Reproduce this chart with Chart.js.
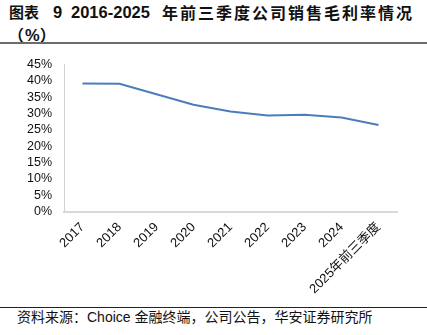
<!DOCTYPE html>
<html>
<head>
<meta charset="utf-8">
<script src="https://cdn.jsdelivr.net/npm/chart.js@4"></script>
<style>
  html, body { margin: 0; padding: 0; background: #fff; }
  body { width: 427px; height: 335px; position: relative; overflow: hidden; }
  .t { position: absolute; font-weight: bold; color: #111; white-space: nowrap; line-height: 22px; }
  .cjk { font-family: "Noto Sans CJK SC", sans-serif; font-size: 16px; letter-spacing: 2px; }
  .lat { font-family: "Liberation Sans", Arial, sans-serif; font-size: 16.5px; }
  #rule1 { position: absolute; left: 0; top: 42px; width: 427px; height: 2px; background: #6b6b6b; }
  #rule2 { position: absolute; left: 0; top: 307px; width: 427px; height: 1px; background: #222; }
  #source { position: absolute; left: 17px; top: 308px; font-size: 14px; line-height: 18px; color: #111; white-space: nowrap;
            font-family: "Liberation Sans", "Noto Sans CJK SC", sans-serif; }
  #wrap { position: absolute; left: 0; top: 45px; width: 427px; height: 250px; }
</style>
</head>
<body>
<div class="t cjk" style="left:9px;top:1px;font-size:15px;letter-spacing:0;">图表</div>
<div class="t lat" style="left:53px;top:1px;">9</div>
<div class="t lat" style="left:71px;top:1px;">2016-2025</div>
<div class="t cjk" style="left:162px;top:1px;">年前三季度公司销售毛利率情况</div>
<div class="t" style="left:8px;top:23px;"><span class="cjk" style="letter-spacing:1px;">（</span><span class="lat">%</span><span class="cjk">）</span></div>
<div id="rule1"></div>

<div id="wrap"><canvas id="chart"></canvas></div>

<div id="rule2"></div>
<div id="source">资料来源：Choice 金融终端，公司公告，华安证券研究所</div>

<script>
// 2016-2025年前三季度 销售毛利率（%）
const years = ["2017", "2018", "2019", "2020", "2021", "2022", "2023", "2024", "2025年前三季度"];
const grossMargin = [39.2, 39.1, 35.9, 32.7, 30.6, 29.4, 29.6, 28.8, 26.5];
const yTicks = [0, 5, 10, 15, 20, 25, 30, 35, 40, 45];

const data = {
  labels: years,
  datasets: [
    {
      label: "销售毛利率",
      data: grossMargin,
      borderColor: "#4a7ebb",
      backgroundColor: "#4a7ebb",
      borderWidth: 2,
      pointRadius: 0,
      tension: 0
    }
  ]
};

const config = {
  type: "line",
  data: data,
  options: {
    responsive: false,
    animation: false,
    layout: { padding: { top: 0, right: 30, left: 0, bottom: 0 } },
    plugins: { legend: { display: false }, tooltip: { enabled: false } },
    scales: {
      x: {
        offset: true,
        grid: { display: false, drawTicks: false },
        border: { display: true, color: "#d9d9d9", width: 2 },
        ticks: {
          color: "#111",
          font: { family: "'Liberation Sans', 'Noto Sans CJK SC', sans-serif", size: 13 },
          minRotation: 45,
          maxRotation: 45,
          autoSkip: false,
          padding: 8
        },
        afterFit: s => { s.height = 83.5; }
      },
      y: {
        min: 0,
        max: 45,
        afterBuildTicks: s => { s.ticks = yTicks.map(v => ({ value: v })); },
        grid: { display: false, drawTicks: false },
        border: { display: true, color: "#cfcfcf", width: 1 },
        ticks: {
          color: "#111",
          font: { family: "'Liberation Sans', sans-serif", size: 12.5 },
          padding: 12,
          autoSkip: false,
          callback: v => v + "%"
        },
        afterFit: s => { s.width = 64; }
      }
    }
  }
};

const canvas = document.getElementById("chart");
canvas.width = 427;
canvas.height = 250;
const myChart = new Chart(canvas, config);
</script>
</body>
</html>
